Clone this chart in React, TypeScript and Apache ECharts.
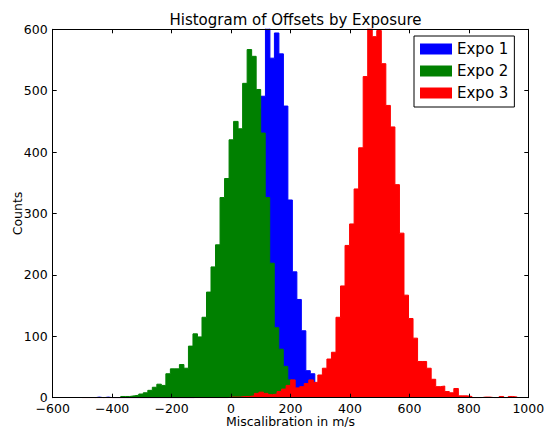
import React, { useEffect, useRef } from "react";
import * as echarts from "echarts";

// ---- data ----
const seriesNames = ["Expo 1", "Expo 2", "Expo 3"];
const seriesColors = ["#0000ff", "#008000", "#ff0000"];

const xTickValues = [-600, -400, -200, 0, 200, 400, 600, 800, 1000];
const yTickValues = [0, 100, 200, 300, 400, 500, 600];

// Expo 1 histogram: first bin edge, bin width, counts
const expo1Start = -458.1;
const expo1Width = 15.1;
const expo1Counts = [
  1, 0, 1, 0, 0, 0, 0, 0, 0, 0, 0, 0, 0, 0, 0, 0, 0, 0, 0, 0, 0, 0,
  1, 2, 4, 8, 15, 27, 45, 75, 115, 170, 230, 300, 370, 430, 470, 491,
  612, 553, 594, 560, 475, 322, 205, 160, 109, 44, 39, 15, 5, 1,
];

// Expo 2 histogram
const expo2Start = -371.2;
const expo2Width = 15.19;
const expo2Counts = [
  2, 2, 3, 4, 6, 8, 12, 17, 22, 20, 39, 47, 47, 54, 48, 84, 104, 99, 131,
  172, 213, 249, 326, 357, 420, 450, 438, 512, 567, 556, 502, 431, 326,
  219, 114, 79, 51, 29, 10, 4, 1,
];

// Expo 3 histogram
const expo3Start = -501;
const expo3Width = 15.25;
const expo3Counts = [
  0, 0, 0, 0, 0, 0, 0, 0, 0, 0, 0, 0, 0, 0, 0, 0, 0, 0, 0, 0, 0, 0, 0, 0,
  0, 0, 0, 0, 0, 0, 0, 0, 1, 1, 1, 2, 2, 3, 7, 9, 7, 5, 6, 10, 14, 20, 29,
  16, 18, 23, 29, 25, 37, 48, 63, 74, 131, 182, 248, 283, 340, 407, 523,
  606, 588, 598, 544, 476, 441, 347, 268, 167, 129, 97, 59, 59, 48, 30, 18,
  19, 10, 8, 15, 3, 3, 2, 0, 0, 1, 1, 0, 0, 2, 0, 2, 1,
];

const FONT = "DejaVu Sans";

// step outline points for a stepfilled histogram
function stepPoints(start: number, width: number, counts: number[]) {
  const pts: number[][] = [[start, 0]];
  counts.forEach((c, i) => pts.push([start + i * width, c]));
  const end = start + counts.length * width;
  pts.push([end, counts[counts.length - 1]]);
  pts.push([end, 0]);
  return pts;
}

const hists = [
  stepPoints(expo1Start, expo1Width, expo1Counts),
  stepPoints(expo2Start, expo2Width, expo2Counts),
  stepPoints(expo3Start, expo3Width, expo3Counts),
];

const fmtX = (v: number) => (v < 0 ? "\u2212" + Math.abs(v) : String(v));

export default function App() {
  const ref = useRef<HTMLDivElement>(null);
  useEffect(() => {
    if (!ref.current) return;
    const chart = echarts.init(ref.current, null, { renderer: "svg" });
    const axisCommon = {
      type: "value" as const,
      z: 10,
      axisLine: { show: true, onZero: false, lineStyle: { color: "#000", width: 1 } },
      axisTick: { show: true, inside: true, length: 4, lineStyle: { color: "#000" } },
      splitLine: { show: false },
    };
    chart.setOption({
      animation: false,
      backgroundColor: "#fff",
      title: {
        text: "Histogram of Offsets by Exposure",
        left: 290.5,
        top: 7,
        textAlign: "center",
        textStyle: { fontFamily: FONT, fontSize: 15, fontWeight: "normal", color: "#000" },
      },
      legend: {
        data: seriesNames,
        orient: "vertical",
        left: 414,
        top: 36,
        padding: [5, 6, 6, 6],
        itemWidth: 32,
        itemHeight: 11,
        itemGap: 6,
        itemTextGap: 12,
        icon: "rect",
        backgroundColor: "#fff",
        borderColor: "#000",
        borderWidth: 1,
        borderRadius: 0,
        selectedMode: false,
        z: 20,
        textStyle: { fontFamily: FONT, fontSize: 15, color: "#000", lineHeight: 16 },
      },
      grid: {
        left: 52.7,
        right: 16.7,
        top: 29.3,
        bottom: 29.3,
        containLabel: false,
        outerBoundsMode: "none",
      },
      xAxis: [
        {
          ...axisCommon,
          position: "bottom",
          min: xTickValues[0],
          max: xTickValues[xTickValues.length - 1],
          interval: 200,
          name: "Miscalibration in m/s",
          nameLocation: "middle",
          nameGap: 18,
          nameMoveOverlap: false,
          nameTextStyle: { fontFamily: FONT, fontSize: 12.5, color: "#000", lineHeight: 11 },
          axisLabel: {
            fontFamily: FONT,
            fontSize: 12.5,
            color: "#000",
            margin: 5,
            lineHeight: 11,
            formatter: fmtX,
          },
        },
        {
          ...axisCommon,
          position: "top",
          min: xTickValues[0],
          max: xTickValues[xTickValues.length - 1],
          interval: 200,
          axisLabel: { show: false },
        },
      ],
      yAxis: [
        {
          ...axisCommon,
          position: "left",
          min: yTickValues[0],
          max: yTickValues[yTickValues.length - 1],
          interval: 100,
          name: "Counts",
          nameLocation: "middle",
          nameGap: 29,
          nameMoveOverlap: false,
          nameTextStyle: { fontFamily: FONT, fontSize: 12.5, color: "#000" },
          axisLabel: { fontFamily: FONT, fontSize: 12.5, color: "#000", margin: 5, lineHeight: 9 },
        },
        {
          ...axisCommon,
          position: "right",
          min: yTickValues[0],
          max: yTickValues[yTickValues.length - 1],
          interval: 100,
          axisLabel: { show: false },
        },
      ],
      series: hists.map((data, i) => ({
        name: seriesNames[i],
        type: "line",
        step: "end",
        data,
        symbol: "none",
        clip: true,
        color: seriesColors[i],
        lineStyle: { color: seriesColors[i], width: 1 },
        areaStyle: { color: seriesColors[i], opacity: 1 },
        itemStyle: { color: seriesColors[i] },
        emphasis: { disabled: true },
        z: 2 + i,
      })),
    });
    return () => chart.dispose();
  }, []);
  return (
    <div
      ref={ref}
      style={{ position: "fixed", left: 0, top: 0, width: 545, height: 427 }}
    />
  );
}
